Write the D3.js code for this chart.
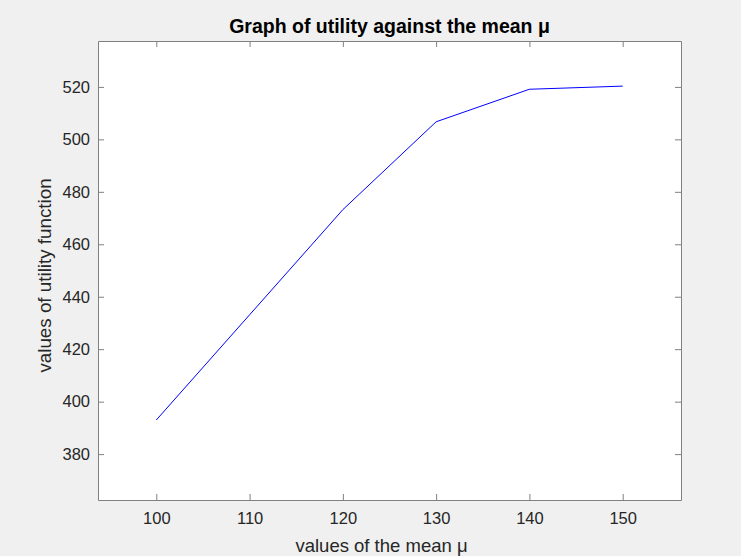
<!DOCTYPE html>
<html>
<head>
<meta charset="utf-8">
<script src="https://cdn.jsdelivr.net/npm/d3@7"></script>
<style>
  body { margin: 0; background: #f0f0f0; }
  svg text { font-family: "Liberation Sans", Arial, sans-serif; fill: #262626; }
</style>
</head>
<body>
<div id="chart"></div>
<script>
// data
var mu = [100, 110, 120, 130, 140, 150];
var utility = [393.0, 433.1, 473.2, 506.7, 519.1, 520.3];
var xTicks = [100, 110, 120, 130, 140, 150];
var yTicks = [380, 400, 420, 440, 460, 480, 500, 520];

// setup
var w = 741;
var h = 556;
var margin = {top: 41, right: 60, bottom: 56, left: 98};
var iw = w - margin.left - margin.right;
var ih = h - margin.top - margin.bottom;

var svg = d3.select("#chart")
            .append("svg")
            .attr("width", w)
            .attr("height", h)
            .style("background", "#f0f0f0");

var x = d3.scaleLinear().domain([93.75, 156.25]).range([0, iw]);
var y = d3.scaleLinear().domain([362.5, 537.5]).range([ih, 0]);

var g = svg.append("g")
           .attr("transform", "translate(" + margin.left + "," + margin.top + ")");

g.append("rect")
    .attr("width", iw)
    .attr("height", ih)
    .attr("fill", "white");

// axes, ticks pointing inward on all four sides
function styleAxis(sel, showLabels) {
    sel.select(".domain").attr("stroke", "#808080");
    sel.selectAll(".tick line").attr("stroke", "#808080");
    sel.selectAll(".tick text")
        .style("font-size", "16.5px")
        .attr("fill", "#262626")
        .attr("opacity", showLabels ? 1 : 0);
}

g.append("g")
    .attr("transform", "translate(0," + ih + ")")
    .call(d3.axisBottom(x).tickValues(xTicks).tickSize(-6).tickSizeOuter(0).tickPadding(12))
    .call(styleAxis, true);

g.append("g")
    .call(d3.axisTop(x).tickValues(xTicks).tickSize(-6).tickSizeOuter(0))
    .call(styleAxis, false);

g.append("g")
    .call(d3.axisLeft(y).tickValues(yTicks).tickSize(-6).tickSizeOuter(0).tickPadding(8))
    .call(styleAxis, true);

g.append("g")
    .attr("transform", "translate(" + iw + ",0)")
    .call(d3.axisRight(y).tickValues(yTicks).tickSize(-6).tickSizeOuter(0))
    .call(styleAxis, false);

// the curve
var line = d3.line()
    .x(function(d, i){ return x(mu[i]); })
    .y(function(d){ return y(d); });

g.append("path")
    .datum(utility)
    .attr("d", line)
    .attr("fill", "none")
    .attr("stroke", "#0000ff")
    .attr("stroke-width", 1);

// labels
svg.append("text")
    .attr("x", margin.left + iw / 2)
    .attr("y", 33)
    .attr("text-anchor", "middle")
    .style("font-size", "19.5px")
    .style("font-weight", "bold")
    .style("fill", "#000")
    .text("Graph of utility against the mean μ");

svg.append("text")
    .attr("x", margin.left + iw / 2 - 8)
    .attr("y", 552)
    .attr("text-anchor", "middle")
    .style("font-size", "18.5px")
    .text("values of the mean μ");

svg.append("text")
    .attr("transform", "translate(51," + (margin.top + ih / 2 + 5) + ") rotate(-90)")
    .attr("text-anchor", "middle")
    .style("font-size", "18.8px")
    .text("values of utility function");
</script>
</body>
</html>
